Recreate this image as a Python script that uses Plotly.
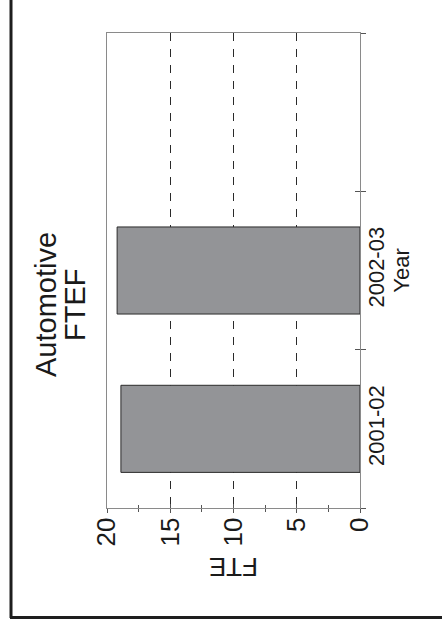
import plotly.graph_objects as go

# ---- data ----
categories = ["2001-02", "2002-03", " "]
fte_values = [18.9, 19.2, None]
fte_ticks = [0, 5, 10, 15, 20]
title_lines = ["Automotive", "FTEF"]
value_axis_title = "FTE"
category_axis_title = "Year"

FONT = "Liberation Sans, Arial, sans-serif"
W, H = 442, 623
L, R, T, B = 107, 360, 33, 508  # plot area pixel box


def px(xp):
    return (xp - L) / (R - L)


def py(yp):
    return (B - yp) / (B - T)


fig = go.Figure()
fig.add_trace(go.Bar(
    x=fte_values, y=categories, orientation="h", width=0.55,
    marker=dict(color="#939497", line=dict(color="#2b2b2b", width=1)),
    hoverinfo="x+y", showlegend=False,
))
# empty trace to hold overlay axes (inside tick marks, so ticks cross the axis lines)
fig.add_trace(go.Scatter(x=[], y=[], xaxis="x2", yaxis="y2", showlegend=False))

fig.update_layout(
    width=W, height=H,
    margin=dict(l=L, r=W - R, t=T, b=H - B, pad=0),
    paper_bgcolor="white", plot_bgcolor="white",
    font=dict(family=FONT, color="#1a1a1a"),
    xaxis=dict(
        range=[20, 0], tickvals=fte_ticks, ticktext=[str(v) for v in fte_ticks],
        tickangle=-90, tickfont=dict(size=26, family=FONT, color="#1a1a1a"),
        ticks="outside", ticklen=4, tickwidth=1, tickcolor="#555",
        minor=dict(dtick=2.5, tick0=0, ticks="outside", ticklen=3, tickwidth=1, tickcolor="#555", showgrid=False),
        showgrid=True, gridcolor="#2a2a2a", gridwidth=1, griddash="8px,8px",
        showline=True, linecolor="#8a8a8a", linewidth=1.3, mirror=True,
        zeroline=False, fixedrange=True, ticklabelstandoff=-6,
    ),
    yaxis=dict(
        categoryorder="array", categoryarray=categories, type="category",
        range=[-0.5, 2.5], side="right", tickson="boundaries",
        tickangle=-90, tickfont=dict(size=22, family=FONT, color="#1a1a1a"),
        ticks="outside", ticklen=5, tickwidth=1, tickcolor="#555",
        showgrid=False, showline=True, linecolor="#8a8a8a", linewidth=1.3, mirror=True,
        zeroline=False, fixedrange=True, ticklabelstandoff=-4,
        title=dict(text=category_axis_title, font=dict(size=22, family=FONT, color="#1a1a1a"), standoff=2),
    ),
    xaxis2=dict(
        overlaying="x", anchor="y", side="bottom", range=[20, 0], tickvals=fte_ticks,
        ticks="inside", ticklen=4, tickwidth=1, tickcolor="#555", showticklabels=False,
        minor=dict(dtick=2.5, tick0=0, ticks="inside", ticklen=3, tickwidth=1, tickcolor="#555", showgrid=False),
        showgrid=False, showline=False, zeroline=False, fixedrange=True,
    ),
    yaxis2=dict(
        overlaying="y", anchor="x", side="right", range=[-0.5, 2.5],
        tickvals=[-0.5, 0.5, 1.5, 2.5], ticks="inside", ticklen=5, tickwidth=1, tickcolor="#555",
        showticklabels=False, showgrid=False, showline=False, zeroline=False, fixedrange=True,
    ),
    showlegend=False,
)

annotations = [
    dict(text=title_lines[0], x=px(46), y=py(305), textangle=-90, font=dict(size=29)),
    dict(text=title_lines[1], x=px(75), y=py(305), textangle=-90, font=dict(size=29)),
    dict(text=value_axis_title, x=0.5, y=py(567), textangle=180, font=dict(size=26)),
]
for a in annotations:
    a.update(xref="paper", yref="paper", showarrow=False, xanchor="center", yanchor="middle")
    a["font"].update(family=FONT, color="#1a1a1a")
fig.update_layout(annotations=annotations)

# outer (cropped) page frame: left and bottom edges
fig.add_shape(type="line", xref="paper", yref="paper", x0=px(11), x1=px(11), y0=py(-5), y1=py(618),
              line=dict(color="#1e1e1e", width=3))
fig.add_shape(type="line", xref="paper", yref="paper", x0=px(10), x1=px(450), y0=py(617.5), y1=py(617.5),
              line=dict(color="#1e1e1e", width=3))

fig.write_html(
    "out.html",
    config={"displayModeBar": False},
    post_script="document.body.style.margin='0';document.body.style.overflow='hidden';",
)
